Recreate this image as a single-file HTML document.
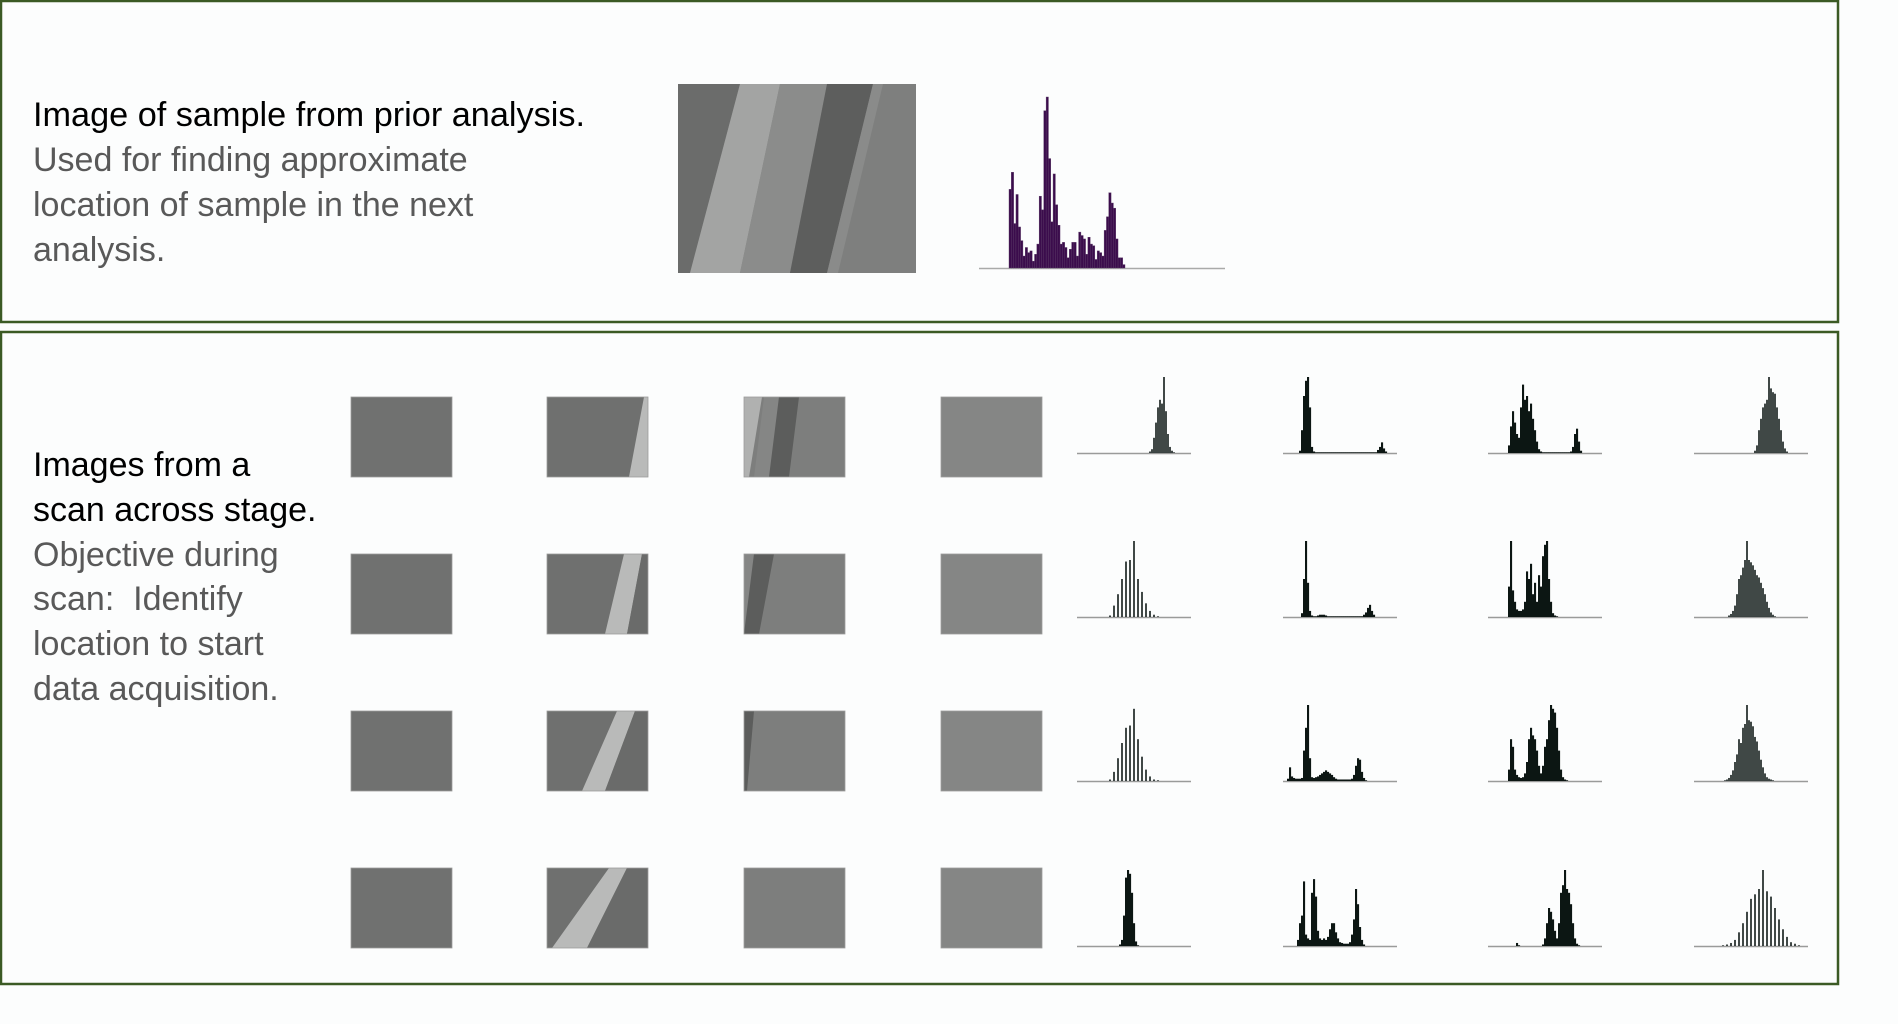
<!DOCTYPE html>
<html><head><meta charset="utf-8"><style>
html,body{margin:0;padding:0;background:#fcfdfd;}
svg{display:block;}
text{font-family:"Liberation Sans",sans-serif;font-size:34px;}
</style></head><body>
<svg id="root" width="1898" height="1024" viewBox="0 0 1898 1024" xmlns="http://www.w3.org/2000/svg">
<defs><clipPath id="imgclip"><rect width="101" height="80"/></clipPath></defs>
<rect x="0" y="0" width="1898" height="1024" fill="#fcfdfd"/>
<rect x="1" y="1" width="1837" height="321" fill="#fcfdfd" stroke="#3b5a24" stroke-width="2.5"/>
<rect x="1" y="332" width="1837" height="652" fill="#fcfdfd" stroke="#3b5a24" stroke-width="2.5"/>
<g>
<text x="33" y="126" fill="#000" textLength="552" lengthAdjust="spacingAndGlyphs">Image of sample from prior analysis.</text>
<text x="33" y="171" fill="#595959">Used for finding approximate</text>
<text x="33" y="216" fill="#595959">location of sample in the next</text>
<text x="33" y="261" fill="#595959">analysis.</text>
</g>
<g>
<text x="33" y="476" fill="#000">Images from a</text>
<text x="33" y="521" fill="#000">scan across stage.</text>
<text x="33" y="566" fill="#595959">Objective during</text>
<text x="33" y="610" fill="#595959">scan:&#160; Identify</text>
<text x="33" y="655" fill="#595959">location to start</text>
<text x="33" y="700" fill="#595959">data acquisition.</text>
</g>
<g transform="translate(678,84)">
<rect width="238" height="189" fill="#7e7f7e"/>
<polygon points="0,0 62,0 12,189 0,189" fill="#6b6c6b"/>
<polygon points="62,0 102,0 62,189 12,189" fill="#a3a4a3"/>
<polygon points="102,0 149,0 112,189 62,189" fill="#8b8c8b"/>
<polygon points="149,0 195,0 149,189 112,189" fill="#5d5e5d"/>
<polygon points="195,0 205,0 160,189 149,189" fill="#8a8b8a"/>
</g>
<g id="scan-images"></g>
<g id="top-hist"></g>
<g id="hists"></g>
</svg>
<script>
// Prior-analysis histogram values (relative counts, 100 = max)
const priorValues = [46,56,26,43,24,16,7,12,9,10,4,8,14,42,34,92,100,64,27,55,37,25,14,15,12,6,11,15,15,7,21,19,17,8,18,14,13,5,10,9,7,22,30,44,38,35,17,6,6,2];

// Scan histograms: start bin + relative counts per bin (bins 0..56)
const start_r1c1 = 36;
const hist_r1c1 = [2,5,20,40,60,70,65,100,55,25,8,3,1];
const start_r1c2 = 8;
const hist_r1c2 = [3,30,75,95,100,60,8,2,1,1,1,1,1,1,1,1,1,1,1,1,1,1,1,1,1,1,1,1,1,1,1,1,1,1,1,1,1,1,1,4,8,14,6,2];
const start_r1c3 = 10;
const hist_r1c3 = [10,35,55,40,25,20,60,90,70,75,55,65,45,30,15,5,2,1,1,1,1,1,1,1,1,1,1,1,1,1,1,2,8,25,32,15,3];
const start_r1c4 = 30;
const hist_r1c4 = [3,10,30,45,60,65,70,100,85,80,78,60,45,30,15,6,2];

const start_r2c1 = 16;
const hist_r2c1 = [2,0,15,0,30,0,50,0,73,0,75,0,100,0,50,0,33,0,18,0,8,0,3,0,1];
const start_r2c2 = 9;
const hist_r2c2 = [5,50,100,45,8,2,1,1,2,3,3,3,2,1,1,1,1,1,1,1,1,1,1,1,1,1,1,1,1,1,1,3,6,12,16,8,3];
const start_r2c3 = 10;
const hist_r2c3 = [40,100,35,20,10,8,8,10,20,60,50,70,30,45,20,55,40,80,95,100,50,20,5,2,1];
const start_r2c4 = 17;
const hist_r2c4 = [2,4,8,15,30,50,55,65,75,100,75,72,68,62,55,52,45,38,30,20,12,6,3,1];

const start_r3c1 = 16;
const hist_r3c1 = [2,0,12,0,30,0,50,0,70,0,73,0,95,0,55,0,32,0,15,0,6,0,2,0,1];
const start_r3c2 = 2;
const hist_r3c2 = [3,18,6,4,3,3,3,4,40,70,100,30,5,4,5,6,8,10,12,14,12,10,8,5,3,2,2,2,2,2,2,2,3,8,20,30,28,12,4,1];
const start_r3c3 = 10;
const hist_r3c3 = [15,55,45,15,8,5,4,5,10,25,55,70,60,55,40,20,10,20,45,55,80,100,95,90,70,40,15,5,2,1];
const start_r3c4 = 15;
const hist_r3c4 = [1,2,4,8,14,25,35,55,50,70,75,100,80,78,72,58,52,40,28,18,10,5,3,2,1];

const start_r4c1 = 21;
const hist_r4c1 = [2,8,40,90,100,95,70,30,6,1];
const start_r4c2 = 7;
const hist_r4c2 = [8,30,40,85,15,10,8,70,88,65,20,10,8,10,8,12,22,30,30,18,10,5,4,3,3,3,5,15,35,75,55,25,8,2];
const start_r4c3 = 14;
const hist_r4c3 = [4,1,0,0,0,0,0,0,0,0,0,0,0,2,10,30,50,45,35,20,10,30,70,80,100,75,70,55,30,10,3,1];
const start_r4c4 = 14;
const hist_r4c4 = [1,0,2,0,4,0,8,0,18,0,30,0,45,0,62,0,68,0,75,0,100,0,72,0,65,0,50,0,35,0,22,0,12,0,5,0,3,0,1];

const NS = "http://www.w3.org/2000/svg";
function mk(tag, attrs, parent){
  const e = document.createElementNS(NS, tag);
  for (const k in attrs) e.setAttribute(k, attrs[k]);
  parent.appendChild(e);
  return e;
}

// ---- prior histogram ----
(function(){
  const g = document.getElementById('top-hist');
  const baseY = 268, x0 = 1009, bw = 2.32, hMax = 171;
  const yScale = v => baseY - v / 100 * hMax;
  const xScale = i => x0 + i * bw;
  const ax = mk('line', {x1:979, y1:baseY+0.5, x2:1225, y2:baseY+0.5, stroke:'#a9aaa9', 'stroke-width':1.5}, g);
  
  
  priorValues.forEach((v, i) => {
    const r = mk('rect', {x:xScale(i), y:yScale(v), width:bw, height:baseY - yScale(v), fill:'#3b0c4c', stroke:'#5a3a66', 'stroke-width':0.4}, g);
    
    
  });
})();

// ---- scan histograms ----
const histCols = [1077, 1283, 1488, 1694];
const histRows = [453, 617, 781, 946];
const histStarts = [[start_r1c1,start_r1c2,start_r1c3,start_r1c4],[start_r2c1,start_r2c2,start_r2c3,start_r2c4],[start_r3c1,start_r3c2,start_r3c3,start_r3c4],[start_r4c1,start_r4c2,start_r4c3,start_r4c4]];
const histData = [[hist_r1c1,hist_r1c2,hist_r1c3,hist_r1c4],[hist_r2c1,hist_r2c2,hist_r2c3,hist_r2c4],[hist_r3c1,hist_r3c2,hist_r3c3,hist_r3c4],[hist_r4c1,hist_r4c2,hist_r4c3,hist_r4c4]];
const combStyle = [[true,false,false,true],[true,false,false,true],[true,false,false,true],[false,false,false,true]];
(function(){
  const g = document.getElementById('hists');
  const bw = 2, hMax = 76;
  for (let r = 0; r < 4; r++) for (let c = 0; c < 4; c++) {
    const baseY = histRows[r], x0 = histCols[c];
    const xScale = i => x0 + i * bw;
    const yScale = v => baseY - v / 100 * hMax;
    const hg = mk('g', {}, g);
    
    
    const ax = mk('line', {x1:x0, y1:baseY+0.5, x2:x0+114, y2:baseY+0.5, stroke:'#9a9b9a', 'stroke-width':1.5}, hg);
    
    
    const comb = combStyle[r][c];
    histData[r][c].forEach((v, i) => {
      if (v <= 0) return;
      const x = xScale(histStarts[r][c] + i);
      const b = mk('rect', {x: comb ? x + 0.2 : x, y: yScale(v), width: comb ? 1.6 : bw + 0.1, height: baseY - yScale(v), fill: comb ? '#121c1a' : '#0c1613'}, hg);
      
      
    });
  }
})();

// ---- scan images ----
const imgCols = [351, 547, 744, 941];
const imgRows = [397, 554, 711, 868];
(function(){
  const g = document.getElementById('scan-images');
  const W = 101, H = 80;
  for (let r = 0; r < 4; r++) for (let c = 0; c < 4; c++) {
    const ig = mk('g', {transform:'translate(' + imgCols[c] + ',' + imgRows[r] + ')'}, g);
    
    
    const inner = mk('g', {'clip-path':'url(#imgclip)'}, ig);
    const base = c === 0 ? '#707170' : c === 1 ? '#6f706f' : c === 2 ? '#7d7e7d' : '#858685';
    mk('rect', {width:W, height:H, fill:base}, inner);
    if (c === 1) {
      const strips = [[97,101,82,101],[77,95,58,80],[70,88,35,58],[62,80,5,40]];
      const s = strips[r];
      mk('polygon', {points: s[0]+',0 '+s[1]+',0 '+s[3]+','+H+' '+s[2]+','+H, fill:'#b9bab9'}, inner);
      if (r > 0) mk('polygon', {points: s[1]+',0 '+W+',0 '+W+','+H+' '+s[3]+','+H, fill:'#6a6b6a'}, inner);
    }
    if (c === 2) {
      const bands = [[35,55,25,45],[10,30,0,15],[0,10,0,3],null];
      if (r === 0) mk('polygon', {points:'0,0 18,0 5,'+H+' 0,'+H, fill:'#b0b1b0'}, inner);
      const b = bands[r];
      if (b) {
        mk('polygon', {points:(b[0]-15)+',0 '+b[0]+',0 '+b[2]+','+H+' '+(b[2]-15)+','+H, fill:'#858685'}, inner);
        mk('polygon', {points:b[0]+',0 '+b[1]+',0 '+b[3]+','+H+' '+b[2]+','+H, fill:'#5c5d5c'}, inner);
      }
    }
    mk('rect', {width:W, height:H, fill:'none', stroke:'#9c9d9c', 'stroke-width':0.8}, ig);
  }
})();
</script>
</body></html>
